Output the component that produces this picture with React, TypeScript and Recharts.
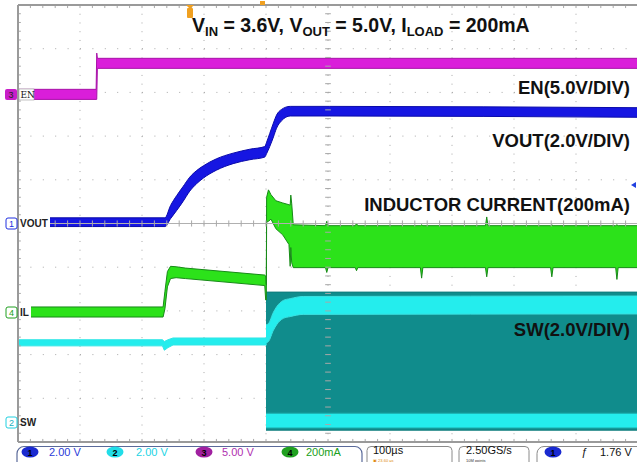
import React from 'react';
import { ComposedChart, Area, XAxis, YAxis, CartesianGrid, ReferenceLine } from 'recharts';

// time in microseconds (100 us / div), level in screen divisions (0 = bottom, 10 = top)
const enTime = [0, 126, 127, 128, 1000];
const enLow = [7.84, 7.84, 7.84, 8.55, 8.55];
const enHigh = [8.07, 8.07, 8.9, 8.78, 8.78];

const voutTime = [0, 237, 246, 256, 266, 277, 288, 299, 320, 347, 374, 398, 401, 406, 412, 417, 425, 439, 503, 1000];
const voutLow = [4.93, 4.93, 5.11, 5.3, 5.5, 5.74, 5.91, 6.04, 6.22, 6.37, 6.46, 6.52, 6.6, 6.76, 6.98, 7.18, 7.35, 7.46, 7.46, 7.43];
const voutHigh = [5.13, 5.13, 5.41, 5.64, 5.84, 6.06, 6.21, 6.32, 6.48, 6.61, 6.7, 6.76, 6.86, 7.06, 7.3, 7.48, 7.61, 7.68, 7.68, 7.65];

const ilTime = [0, 234, 237, 241, 246, 255, 270, 398, 399.5, 400.5, 401, 404, 408, 416, 427, 437, 439, 440, 441.5, 444,
  496, 498, 500, 544, 546, 548, 649, 651, 653, 754, 756, 758, 859, 861, 863, 964, 966, 968, 1000];
const ilLow = [2.86, 2.86, 3.05, 3.55, 3.74, 3.76, 3.74, 3.58, 3.25, 3.25, 5.03, 5.05, 5.1, 4.88, 4.74, 4.52, 4.02, 4.45, 4.1, 3.99,
  3.99, 3.88, 3.99, 3.99, 3.92, 3.99, 3.99, 3.75, 3.99, 3.99, 3.78, 3.99, 3.99, 3.78, 3.99, 3.99, 3.72, 3.99, 3.99];
const ilHigh = [3.09, 3.09, 3.45, 3.9, 4.02, 4.01, 3.98, 3.82, 3.8, 3.6, 5.6, 5.77, 5.66, 5.52, 5.47, 5.43, 5.42, 5.65, 5.45, 4.97,
  4.95, 5.05, 4.95, 4.95, 5.0, 4.95, 4.95, 4.97, 4.95, 4.95, 5.15, 4.95, 4.95, 4.97, 4.95, 4.95, 4.97, 4.95, 4.95];

const swIdleTime = [0, 233, 236, 242, 250, 401];
const swIdleLow = [2.2, 2.2, 2.1, 2.16, 2.22, 2.22];
const swIdleHigh = [2.34, 2.34, 2.3, 2.34, 2.38, 2.38];

const swSpanTime = [400, 1000];
const swSpanLow = [0.27, 0.27];
const swSpanHigh = [3.43, 3.43];

const swTopTime = [400, 404, 412, 417, 428, 439, 460, 1000];
const swTopLow = [2.27, 2.3, 2.56, 2.68, 2.83, 2.87, 2.92, 2.93];
const swTopHigh = [2.68, 2.71, 2.97, 3.09, 3.24, 3.28, 3.33, 3.34];

const swBottomTime = [400, 1000];
const swBottomLow = [0.32, 0.32];
const swBottomHigh = [0.66, 0.66];

const divTicksX = [0, 100, 200, 300, 400, 500, 600, 700, 800, 900, 1000];
const divTicksY = [0, 1, 2, 3, 4, 5, 6, 7, 8, 9, 10];

const band = (t: number[], lo: number[], hi: number[]) => t.map((x, i) => ({ t: x, v: [lo[i], hi[i]] }));

const enData = band(enTime, enLow, enHigh);
const voutData = band(voutTime, voutLow, voutHigh);
const ilData = band(ilTime, ilLow, ilHigh);
const swIdleData = band(swIdleTime, swIdleLow, swIdleHigh);
const swSpanData = band(swSpanTime, swSpanLow, swSpanHigh);
const swTopData = band(swTopTime, swTopLow, swTopHigh);
const swBottomData = band(swBottomTime, swBottomLow, swBottomHigh);

const minorX = Array.from({ length: 51 }, (_, i) => i * 20);
const minorY = Array.from({ length: 51 }, (_, i) => Math.round(i * 2) / 10);
const TX = 4.6; // tick half-length in us
const TY = 0.07; // tick half-length in div

const SANS = 'Liberation Sans, Arial, Helvetica, sans-serif';
const GRID = '#a8a8a8';

export default function App() {
  const tickLines: React.ReactNode[] = [];
  minorX.forEach((t) => {
    tickLines.push(<ReferenceLine key={'tt' + t} segment={[{ x: t, y: 10 }, { x: t, y: 10 - TY }]} stroke={GRID} ifOverflow="visible" />);
    tickLines.push(<ReferenceLine key={'tb' + t} segment={[{ x: t, y: 0 }, { x: t, y: TY }]} stroke={GRID} ifOverflow="visible" />);
    tickLines.push(<ReferenceLine key={'tc' + t} segment={[{ x: t, y: 5 - TY }, { x: t, y: 5 + TY }]} stroke={GRID} ifOverflow="visible" />);
  });
  minorY.forEach((y) => {
    tickLines.push(<ReferenceLine key={'tl' + y} segment={[{ x: 0, y }, { x: TX, y }]} stroke={GRID} ifOverflow="visible" />);
    tickLines.push(<ReferenceLine key={'tv' + y} segment={[{ x: 500 - TX, y }, { x: 500 + TX, y }]} stroke={GRID} ifOverflow="visible" />);
  });

  const label = (txt: string, y: number) => (
    <text x={630} y={y} textAnchor="end" fontFamily={SANS} fontWeight="bold" fontSize={18.5} fill="#111">{txt}</text>
  );

  return (
    <div style={{ position: 'absolute', left: 0, top: 0, width: 637, height: 462, overflow: 'hidden', background: '#fff' }}>
      <ComposedChart width={640} height={462} margin={{ top: 5, right: 2, bottom: 20, left: 18 }}>
        <XAxis dataKey="t" type="number" domain={[0, 1000]} ticks={divTicksX} allowDataOverflow hide />
        <YAxis type="number" domain={[0, 10]} ticks={divTicksY} allowDataOverflow hide />
        <CartesianGrid horizontal={true} vertical={false} stroke={GRID} strokeDasharray="1 11.4" />
        <CartesianGrid horizontal={false} vertical={true} stroke={GRID} strokeDasharray="1 7.74" />
        <ReferenceLine y={5} stroke="#b0b0b0" ifOverflow="visible" />
        {tickLines}
        <Area data={swSpanData} dataKey="v" type="linear" fill="#108C8C" stroke="#0E7C7C" strokeWidth={1} fillOpacity={1} isAnimationActive={false} dot={false} activeDot={false} />
        <Area data={swTopData} dataKey="v" type="monotone" fill="#24EDED" stroke="#3AE0E0" strokeWidth={1} fillOpacity={1} isAnimationActive={false} dot={false} activeDot={false} />
        <Area data={swBottomData} dataKey="v" type="linear" fill="#24EDED" stroke="#1BA8A8" strokeWidth={1} fillOpacity={1} isAnimationActive={false} dot={false} activeDot={false} />
        <Area data={swIdleData} dataKey="v" type="linear" fill="#24EDED" stroke="#30E6E6" strokeWidth={1} fillOpacity={1} isAnimationActive={false} dot={false} activeDot={false} />
        <Area data={ilData} dataKey="v" type="linear" fill="#2CE21A" stroke="#188A18" strokeWidth={1} fillOpacity={1} isAnimationActive={false} dot={false} activeDot={false} />
        <Area data={voutData} dataKey="v" type="monotone" fill="#1616E2" stroke="#0A0AAA" strokeWidth={1} fillOpacity={1} isAnimationActive={false} dot={false} activeDot={false} />
        <Area data={enData} dataKey="v" type="linear" fill="#DA1EDA" stroke="#A812A8" strokeWidth={1} fillOpacity={1} isAnimationActive={false} dot={false} activeDot={false} />
        <ReferenceLine x={0} stroke="#9a9a9a" strokeWidth={2} ifOverflow="visible" />
        <ReferenceLine y={10} stroke="#9a9a9a" strokeWidth={2} ifOverflow="visible" />
        <ReferenceLine y={0} stroke="#9a9a9a" strokeWidth={2} ifOverflow="visible" />
      </ComposedChart>
      <svg width={637} height={462} style={{ position: 'absolute', left: 0, top: 0, pointerEvents: 'none' }}>
        {/* trigger markers */}
        <polygon points="186,5 194,5 190,9" fill="#F0A020" />
        <rect x={187} y={8} width={6} height={10} rx={1} fill="#F0A020" />
        <rect x={260} y={1} width={5} height={4} fill="#F0A020" />
        <polygon points="636,182 636,188 631,185" fill="#2040E0" />

        {/* title */}
        <text x={192} y={32} fontFamily={SANS} fontWeight="bold" fontSize={19.5} fill="#111" style={{ whiteSpace: 'pre' }}>
          <tspan>V</tspan>
          <tspan fontSize={13} dy={3.5}>IN</tspan>
          <tspan dy={-3.5}>{' = 3.6V, V'}</tspan>
          <tspan fontSize={13} dy={3.5}>OUT</tspan>
          <tspan dy={-3.5}>{' = 5.0V, I'}</tspan>
          <tspan fontSize={13} dy={3.5}>LOAD</tspan>
          <tspan dy={-3.5}>{' = 200mA'}</tspan>
        </text>

        {label('EN(5.0V/DIV)', 94)}
        {label('VOUT(2.0V/DIV)', 147)}
        {label('INDUCTOR CURRENT(200mA)', 210.5)}
        {label('SW(2.0V/DIV)', 336)}

        {/* channel markers */}
        <rect x={5} y={89} width={12} height={11} rx={2} fill="#C81EC8" />
        <text x={11} y={98} textAnchor="middle" fontFamily={SANS} fontSize={9} fill="#222">3</text>
        <rect x={19} y={89} width={15} height={11} fill="#fff" stroke="#999" strokeWidth={0.6} />
        <text x={20.5} y={98} fontFamily="DejaVu Serif, serif" fontSize={9} fill="#111">EN</text>

        <rect x={6} y={218} width={11} height={11} rx={2} fill="#fff" stroke="#2030E0" />
        <text x={11.5} y={227} textAnchor="middle" fontFamily={SANS} fontSize={9} fill="#2030E0">1</text>
        <rect x={19} y={217} width={31} height={12} fill="#fff" />
        <text x={20} y={227} fontFamily={SANS} fontWeight="bold" fontSize={10} fill="#222">VOUT</text>

        <rect x={6} y={307} width={11} height={11} rx={2} fill="#fff" stroke="#20A020" />
        <text x={11.5} y={316} textAnchor="middle" fontFamily={SANS} fontSize={9} fill="#20A020">4</text>
        <rect x={19} y={306} width={12} height={12} fill="#fff" />
        <text x={20} y={316} fontFamily={SANS} fontWeight="bold" fontSize={10} fill="#222">IL</text>

        <rect x={6} y={417} width={11} height={11} rx={2} fill="#fff" stroke="#20D0E0" />
        <text x={11.5} y={426} textAnchor="middle" fontFamily={SANS} fontSize={9} fill="#20B0C0">2</text>
        <text x={20} y={426} fontFamily={SANS} fontWeight="bold" fontSize={10} fill="#222">SW</text>

        {/* status bar */}
        <rect x={17} y={446.5} width={345} height={24} rx={7} fill="#fff" stroke="#5A6A9A" strokeWidth={1.2} />
        <ellipse cx={30} cy={452} rx={8.5} ry={5.5} fill="#1A2AD0" />
        <text x={30} y={455.5} textAnchor="middle" fontFamily={SANS} fontWeight="bold" fontSize={9} fill="#000">1</text>
        <text x={49} y={456} fontFamily={SANS} fontSize={11} fill="#2A3AD8">2.00 V</text>
        <ellipse cx={115} cy={452} rx={8.5} ry={5.5} fill="#22DDE8" />
        <text x={115} y={455.5} textAnchor="middle" fontFamily={SANS} fontWeight="bold" fontSize={9} fill="#000">2</text>
        <text x={136} y={456} fontFamily={SANS} fontSize={11} fill="#22D4E4">2.00 V</text>
        <ellipse cx={204} cy={452} rx={8.5} ry={5.5} fill="#A020A0" />
        <text x={204} y={455.5} textAnchor="middle" fontFamily={SANS} fontWeight="bold" fontSize={9} fill="#000">3</text>
        <text x={222} y={456} fontFamily={SANS} fontSize={11} fill="#B030B0">5.00 V</text>
        <ellipse cx={290} cy={452} rx={8.5} ry={5.5} fill="#20A020" />
        <text x={290} y={455.5} textAnchor="middle" fontFamily={SANS} fontWeight="bold" fontSize={9} fill="#000">4</text>
        <text x={306} y={456} fontFamily={SANS} fontSize={11} fill="#20A020">200mA</text>

        <rect x={367} y={446.5} width={85} height={24} rx={4} fill="#fff" stroke="#8A8A8A" strokeWidth={1} />
        <text x={373} y={454} fontFamily={SANS} fontSize={11} fill="#111">100µs</text>
        <text x={373} y={461.6} fontFamily={SANS} fontSize={4} fill="#E08A10">▣ 23.60 µs</text>

        <rect x={459} y={446.5} width={70} height={24} rx={4} fill="#fff" stroke="#8A8A8A" strokeWidth={1} />
        <text x={466} y={454} fontFamily={SANS} fontSize={11} fill="#111">2.50GS/s</text>
        <text x={466} y={461.6} fontFamily={SANS} fontSize={4} fill="#333">10M points</text>

        <rect x={537} y={446.5} width={110} height={24} rx={7} fill="#fff" stroke="#8A8A8A" strokeWidth={1} />
        <ellipse cx={553} cy={452} rx={8.5} ry={5.5} fill="#1A2AD0" />
        <text x={553} y={455.5} textAnchor="middle" fontFamily={SANS} fontWeight="bold" fontSize={9} fill="#000">1</text>
        <text x={581} y={456} fontFamily={SANS} fontStyle="italic" fontSize={11} fill="#111">ƒ</text>
        <text x={600} y={456} fontFamily={SANS} fontSize={11} fill="#111">1.76 V</text>
      </svg>
    </div>
  );
}
